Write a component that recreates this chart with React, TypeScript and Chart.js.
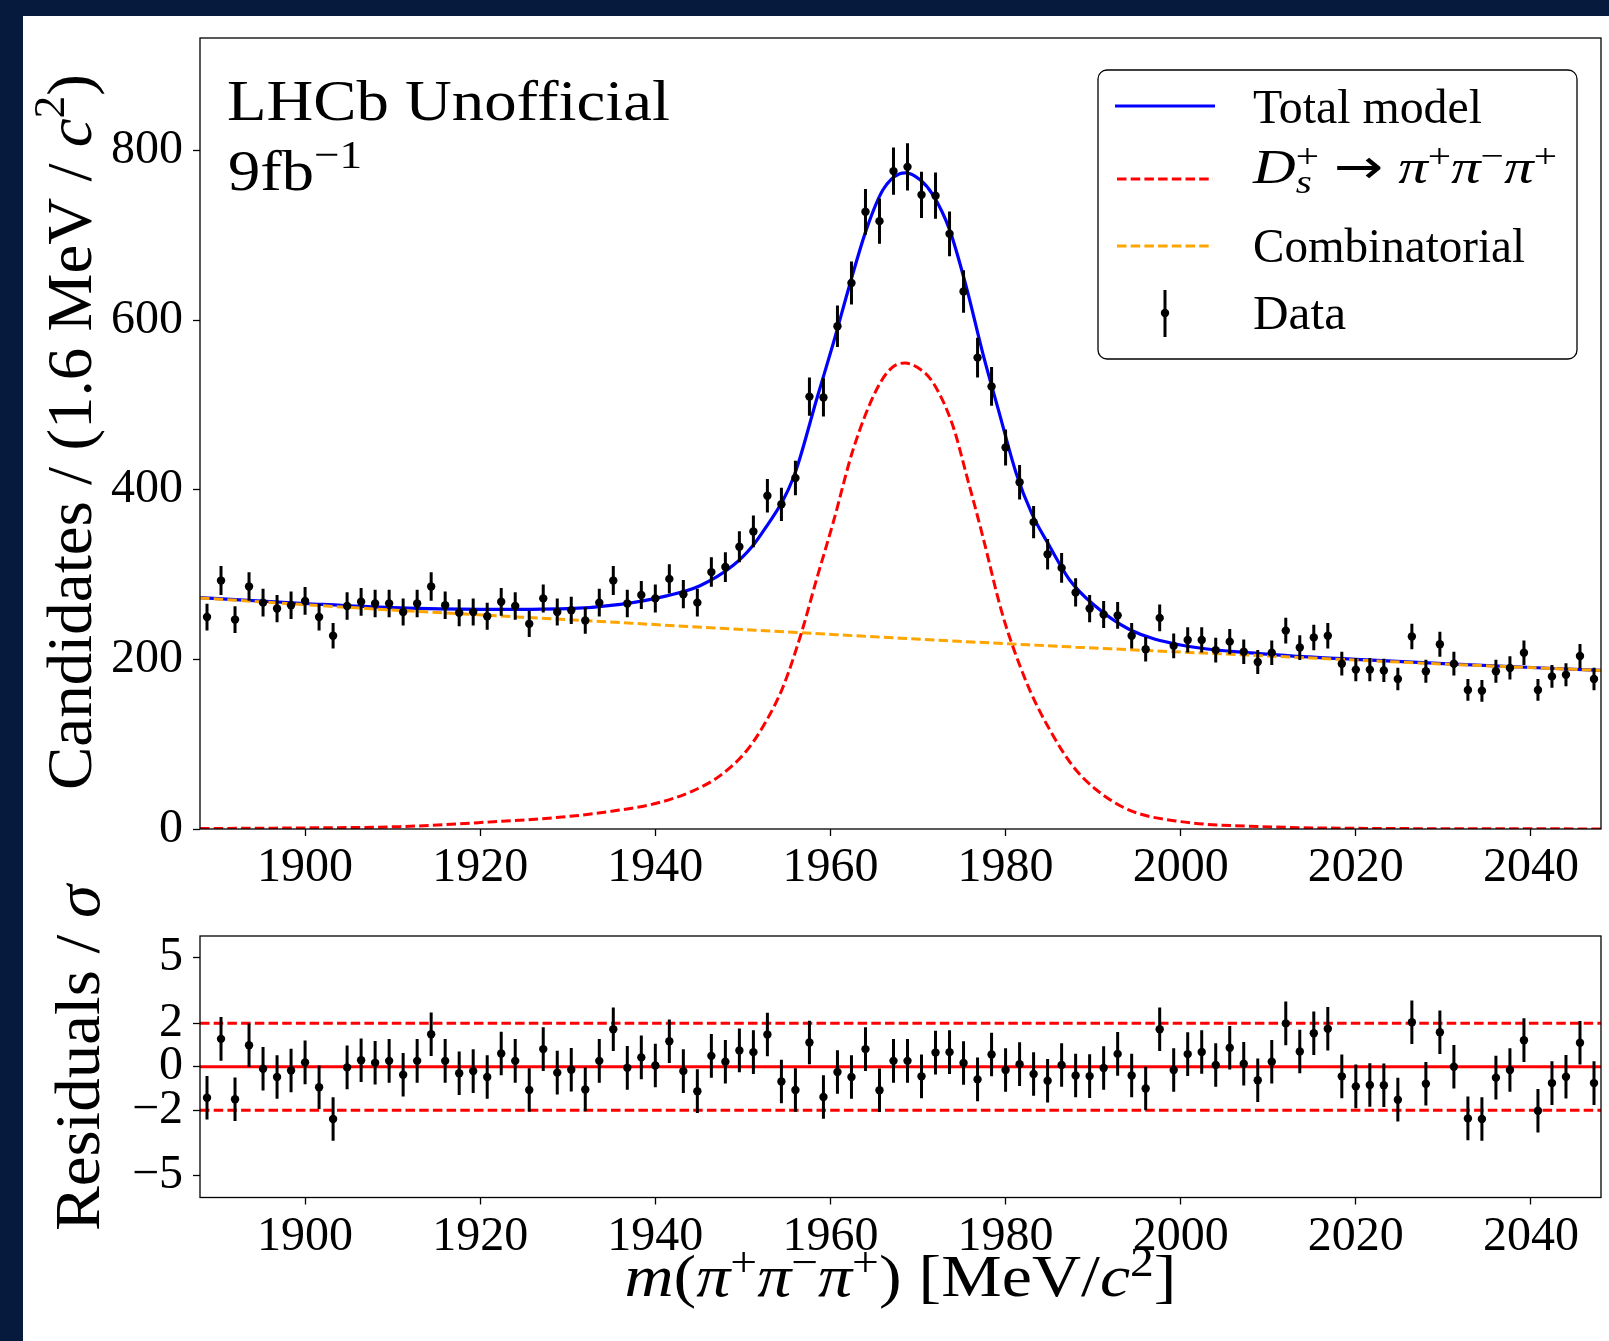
import React, { useEffect, useRef } from 'react';
import { Chart, registerables } from 'chart.js';

Chart.register(...registerables);

// ---------------- data ----------------
const BIN_LOW = 1888;
const BIN_WIDTH = 1.6;
const X_MIN = 1888;
const X_MAX = 2048;
const Y_MAX = 933;

const COUNTS = [
  250, 293, 247, 286, 267, 260, 264, 269, 250, 228,
  263, 268, 266, 266, 256, 266, 286, 264, 255, 256,
  251, 268, 263, 242, 272, 256, 258, 246, 267, 293,
  266, 276, 272, 295, 277, 267, 303, 309, 333, 351,
  393, 383, 414, 510, 509, 593, 644, 728, 717, 776,
  781, 748, 747, 702, 634, 556, 522, 450, 409, 362,
  324, 308, 279, 260, 253, 252, 228, 212, 249, 216,
  223, 223, 211, 221, 209, 197, 208, 234, 214, 226,
  228, 195, 188, 188, 187, 177, 227, 186, 218, 195,
  164, 163, 186, 190, 208, 164, 180, 182, 204, 177,
];

const PULLS = [
  -1.42, 1.28, -1.49, 0.99, -0.09, -0.47, -0.17, 0.2, -0.94, -2.4,
  -0.03, 0.3, 0.18, 0.27, -0.37, 0.27, 1.49, 0.27, -0.3, -0.2,
  -0.47, 0.61, 0.27, -1.07, 0.81, -0.27, -0.14, -1.04, 0.27, 1.72,
  -0.05, 0.43, 0.06, 1.17, -0.2, -1.12, 0.5, 0.23, 0.75, 0.67,
  1.48, -0.68, -1.07, 1.11, -1.39, -0.24, -0.47, 0.81, -1.08, 0.27,
  0.27, -0.44, 0.65, 0.67, 0.17, -0.58, 0.56, -0.15, 0.12, -0.33,
  -0.64, 0.08, -0.4, -0.43, -0.06, 0.59, -0.4, -1.0, 1.72, -0.15,
  0.58, 0.68, 0.08, 0.87, 0.14, -0.62, 0.23, 1.99, 0.7, 1.54,
  1.74, -0.44, -0.9, -0.84, -0.85, -1.51, 2.04, -0.78, 1.58, 0.0,
  -2.37, -2.4, -0.5, -0.15, 1.22, -2.02, -0.75, -0.46, 1.1, -0.75,
];

const TOTAL_X = [
  1888, 1900, 1910, 1920, 1930, 1936, 1941.3, 1945.1, 1948.9, 1951.2,
  1952.7, 1954.6, 1955.75, 1956.5, 1958.4, 1960.3, 1962.2, 1964.1, 1966.0, 1967.9,
  1968.6, 1970.2, 1971.7, 1973.6, 1975.5, 1977.4, 1979.3, 1981.2, 1983, 1985,
  1987.3, 1990, 1994.2, 2000, 2009.4, 2020, 2030, 2048,
];
const TOTAL_Y = [
  273, 266, 261, 259, 260, 265, 275, 287, 311, 335,
  357, 388, 414, 437, 506, 572, 642, 707, 754, 773,
  774, 766, 748, 707, 640, 561, 490, 420, 372, 334,
  294, 265, 235, 217, 206.6, 200, 195, 187,
];

const SIGNAL_X = [
  1888, 1900, 1910.8, 1920, 1929.9, 1935, 1940, 1944.3, 1947.4, 1950.4,
  1952.7, 1954.6, 1956.7, 1958.4, 1960.3, 1962.6, 1965.3, 1967, 1968.5, 1970,
  1971.7, 1974, 1975.6, 1977.4, 1979.4, 1980.5, 1982.8, 1985.1, 1987.7, 1990.4,
  1994.2, 2000, 2009.4, 2020, 2048,
];
const SIGNAL_Y = [
  0.5, 1.3, 2.8, 7.6, 14.6, 21, 30, 45, 63, 92,
  128, 168, 232, 294, 361, 448, 519, 544, 549.6, 544,
  526.8, 475, 415, 345, 262, 225, 163, 116, 74, 46,
  22, 8.7, 2.8, 0.8, 0.1,
];

const COMB_X = [1888, 1908, 1928, 1948, 1968, 1988, 2008, 2028, 2048];
const COMB_Y = [272.5, 259.5, 248, 236.5, 225, 214.5, 205, 195.5, 187];

const X_TICKS = [1900, 1920, 1940, 1960, 1980, 2000, 2020, 2040];
const Y_TICKS = [0, 200, 400, 600, 800];
const PULL_TICKS = [-5, -2, 0, 2, 5];
const PULL_MIN = -6;
const PULL_MAX = 6;

const LEGEND_LABELS = ['Total model', 'Combinatorial', 'Data'];

// ---------------- styling ----------------
const NAVY = '#051a3d';
const FONT = '"Liberation Serif", "Times New Roman", "DejaVu Serif", serif';
const BLUE = '#0000ff';
const RED = '#ff0000';
const ORANGE = '#ffa500';
const DASH = [9.5, 4.2];

type Seg = { t: string; it?: boolean; sup?: boolean; sub?: boolean; hold?: boolean; fam?: string };

function segFont(s: Seg, size: number) {
  const sz = s.sup || s.sub ? size * 0.7 : size;
  return `${s.it ? 'italic ' : ''}${sz}px ${s.fam || FONT}`;
}

function measureRich(ctx: CanvasRenderingContext2D, segs: Seg[], size: number) {
  let x = 0;
  let held = 0;
  for (const s of segs) {
    ctx.font = segFont(s, size);
    const w = ctx.measureText(s.t).width;
    if (s.hold) {
      held = w;
      continue;
    }
    x += Math.max(w, held);
    held = 0;
  }
  return x;
}

function drawRich(
  ctx: CanvasRenderingContext2D,
  segs: Seg[],
  o: {
    x: number;
    y: number;
    size: number;
    width?: number;
    align?: 'left' | 'center';
    rotate?: boolean;
    raise?: number;
  }
) {
  ctx.save();
  ctx.translate(o.x, o.y);
  if (o.rotate) ctx.rotate(-Math.PI / 2);
  const natural = measureRich(ctx, segs, o.size);
  const hs = o.width ? o.width / natural : 1;
  ctx.scale(hs, 1);
  let x = o.align === 'center' ? -natural / 2 : 0;
  ctx.fillStyle = '#000';
  ctx.textBaseline = 'alphabetic';
  ctx.textAlign = 'left';
  const raise = o.raise ?? 0.38;
  let held = 0;
  for (const s of segs) {
    ctx.font = segFont(s, o.size);
    const w = ctx.measureText(s.t).width;
    const dy = s.sup ? -raise * o.size : s.sub ? 0.2 * o.size : 0;
    ctx.fillText(s.t, x, dy);
    if (s.hold) {
      held = w;
      continue;
    }
    x += Math.max(w, held);
    held = 0;
  }
  ctx.restore();
}

function strokeFrame(chart: any) {
  const { ctx, chartArea: a } = chart;
  ctx.save();
  ctx.strokeStyle = '#000';
  ctx.lineWidth = 1.3;
  ctx.strokeRect(a.left, a.top, a.right - a.left, a.bottom - a.top);
  ctx.restore();
}

function axisCfg(
  ticks: number[],
  min: number,
  max: number,
  size: { w?: number; h?: number },
  pad: number,
  fmt?: (v: number) => string
) {
  return {
    type: 'linear',
    min,
    max,
    afterBuildTicks: (s: any) => {
      s.ticks = ticks.map((v) => ({ value: v }));
    },
    afterFit: (s: any) => {
      if (size.w !== undefined) s.width = size.w;
      if (size.h !== undefined) s.height = size.h;
      s.paddingTop = 0;
      s.paddingBottom = 0;
      s.paddingLeft = 0;
      s.paddingRight = 0;
    },
    grid: {
      display: true,
      drawOnChartArea: false,
      drawTicks: true,
      tickLength: 7,
      tickWidth: 1.3,
      tickColor: '#000',
    },
    border: { display: false },
    ticks: {
      color: '#000',
      font: { family: FONT, size: 48 },
      autoSkip: false,
      maxRotation: 0,
      padding: pad,
      callback: (v: any) => (fmt ? fmt(Number(v)) : String(v)),
    },
  };
}

const minusFmt = (v: number) => (v < 0 ? '−' + Math.abs(v) : String(v));

// page geometry of the two canvases
const MAIN_TOP = 0;
const MAIN_H = 905;
const RES_TOP = 850;
const RES_H = 491;

export default function App() {
  const mainRef = useRef<HTMLCanvasElement>(null);
  const resRef = useRef<HTMLCanvasElement>(null);

  useEffect(() => {
    const centers = COUNTS.map((_, i) => BIN_LOW + BIN_WIDTH * (i + 0.5));
    const dataPts = COUNTS.map((c, i) => ({ x: centers[i], y: c }));
    const pullPts = PULLS.map((p, i) => ({ x: centers[i], y: p }));
    const curve = (xs: number[], ys: number[]) => xs.map((x, i) => ({ x, y: ys[i] }));

    const mainPlugin = {
      id: 'mainDeco',
      beforeDatasetDraw(chart: any, args: any) {
        if (args.index !== 0) return;
        const { ctx, scales } = chart;
        ctx.save();
        ctx.strokeStyle = '#000';
        ctx.lineWidth = 3;
        ctx.beginPath();
        COUNTS.forEach((c, i) => {
          const e = Math.sqrt(c);
          const px = scales.x.getPixelForValue(centers[i]);
          ctx.moveTo(px, scales.y.getPixelForValue(c - e));
          ctx.lineTo(px, scales.y.getPixelForValue(c + e));
        });
        ctx.stroke();
        ctx.restore();
      },
      afterDraw(chart: any) {
        const ctx: CanvasRenderingContext2D = chart.ctx;
        strokeFrame(chart);
        drawRich(
          ctx,
          [
            { t: 'Candidates / (1.6 MeV / ' },
            { t: 'c', it: true },
            { t: '2', sup: true },
            { t: ')' },
          ],
          { x: 91, y: 432 - MAIN_TOP, size: 64, width: 716, align: 'center', rotate: true, raise: 0.42 }
        );
        drawRich(ctx, [{ t: 'LHCb Unofficial' }], { x: 227, y: 120, size: 58, width: 443 });
        drawRich(ctx, [{ t: '9fb' }, { t: '−1', sup: true }], { x: 228, y: 190, size: 58, width: 134 });

        // legend
        ctx.save();
        const bx = 1098, by = 70, bw = 479, bh = 289, r = 9;
        ctx.beginPath();
        ctx.moveTo(bx + r, by);
        ctx.arcTo(bx + bw, by, bx + bw, by + bh, r);
        ctx.arcTo(bx + bw, by + bh, bx, by + bh, r);
        ctx.arcTo(bx, by + bh, bx, by, r);
        ctx.arcTo(bx, by, bx + bw, by, r);
        ctx.closePath();
        ctx.fillStyle = '#fff';
        ctx.fill();
        ctx.strokeStyle = '#000';
        ctx.lineWidth = 1.3;
        ctx.stroke();

        ctx.lineWidth = 3.2;
        ctx.strokeStyle = BLUE;
        ctx.beginPath();
        ctx.moveTo(1115, 106);
        ctx.lineTo(1215, 106);
        ctx.stroke();

        ctx.lineWidth = 3;
        ctx.setLineDash(DASH);
        ctx.strokeStyle = RED;
        ctx.beginPath();
        ctx.moveTo(1117, 179);
        ctx.lineTo(1213, 179);
        ctx.stroke();

        ctx.strokeStyle = ORANGE;
        ctx.beginPath();
        ctx.moveTo(1117, 246);
        ctx.lineTo(1213, 246);
        ctx.stroke();
        ctx.setLineDash([]);

        ctx.strokeStyle = '#000';
        ctx.lineWidth = 3;
        ctx.beginPath();
        ctx.moveTo(1165, 290);
        ctx.lineTo(1165, 337);
        ctx.stroke();
        ctx.fillStyle = '#000';
        ctx.beginPath();
        ctx.arc(1165, 313, 4.2, 0, Math.PI * 2);
        ctx.fill();
        ctx.restore();

        drawRich(ctx, [{ t: LEGEND_LABELS[0] }], { x: 1253, y: 122.7, size: 48, width: 229 });
        drawRich(
          ctx,
          [
            { t: 'D', it: true },
            { t: 's', it: true, sub: true, hold: true },
            { t: '+', sup: true },
            { t: ' ' },
            { t: '→', fam: '"DejaVu Sans"' },
            { t: ' ' },
            { t: 'π', it: true },
            { t: '+', sup: true },
            { t: 'π', it: true },
            { t: '−', sup: true },
            { t: 'π', it: true },
            { t: '+', sup: true },
          ],
          { x: 1253, y: 183, size: 48, width: 304, raise: 0.33 }
        );
        drawRich(ctx, [{ t: LEGEND_LABELS[1] }], { x: 1253, y: 262.3, size: 48, width: 272 });
        drawRich(ctx, [{ t: LEGEND_LABELS[2] }], { x: 1253, y: 329.3, size: 48, width: 93 });
      },
    };

    const resPlugin = {
      id: 'resDeco',
      beforeDatasetDraw(chart: any, args: any) {
        if (args.index !== 0) return;
        const { ctx, scales } = chart;
        ctx.save();
        ctx.strokeStyle = '#000';
        ctx.lineWidth = 3;
        ctx.beginPath();
        PULLS.forEach((p, i) => {
          const px = scales.x.getPixelForValue(centers[i]);
          ctx.moveTo(px, scales.y.getPixelForValue(p - 1));
          ctx.lineTo(px, scales.y.getPixelForValue(p + 1));
        });
        ctx.stroke();
        ctx.restore();
      },
      afterDraw(chart: any) {
        const ctx: CanvasRenderingContext2D = chart.ctx;
        strokeFrame(chart);
        drawRich(ctx, [{ t: 'Residuals / ' }, { t: 'σ', it: true }], {
          x: 99,
          y: 1058 - RES_TOP,
          size: 64,
          width: 346,
          align: 'center',
          rotate: true,
        });
        drawRich(
          ctx,
          [
            { t: 'm', it: true },
            { t: '(' },
            { t: 'π', it: true },
            { t: '+', sup: true },
            { t: 'π', it: true },
            { t: '−', sup: true },
            { t: 'π', it: true },
            { t: '+', sup: true },
            { t: ') [MeV/' },
            { t: 'c', it: true },
            { t: '2', sup: true },
            { t: ']' },
          ],
          { x: 900.5, y: 1296 - RES_TOP, size: 60, width: 552, align: 'center', raise: 0.33 }
        );
      },
    };

    const main = new Chart(mainRef.current as HTMLCanvasElement, {
      type: 'scatter',
      data: {
        datasets: [
          {
            label: 'Data',
            data: dataPts,
            pointRadius: 4.2,
            pointBackgroundColor: '#000',
            pointBorderWidth: 0,
            showLine: false,
            order: 0,
          } as any,
          {
            label: 'Signal',
            data: curve(SIGNAL_X, SIGNAL_Y),
            showLine: true,
            pointRadius: 0,
            borderColor: RED,
            borderWidth: 3,
            borderDash: DASH,
            cubicInterpolationMode: 'monotone',
            fill: false,
            order: 1,
          },
          {
            label: 'Combinatorial',
            data: curve(COMB_X, COMB_Y),
            showLine: true,
            pointRadius: 0,
            borderColor: ORANGE,
            borderWidth: 3,
            borderDash: DASH,
            cubicInterpolationMode: 'monotone',
            fill: false,
            order: 2,
          },
          {
            label: 'Total model',
            data: curve(TOTAL_X, TOTAL_Y),
            showLine: true,
            pointRadius: 0,
            borderColor: BLUE,
            borderWidth: 3.2,
            cubicInterpolationMode: 'monotone',
            fill: false,
            order: 3,
          },
        ],
      },
      options: {
        animation: false,
        responsive: false,
        devicePixelRatio: 1,
        layout: { padding: { left: 0, right: 8, top: 38 - MAIN_TOP, bottom: 0 } },
        plugins: { legend: { display: false }, tooltip: { enabled: false } },
        scales: {
          x: axisCfg(X_TICKS, X_MIN, X_MAX, { h: MAIN_TOP + MAIN_H - 829 }, 4),
          y: axisCfg(Y_TICKS, 0, Y_MAX, { w: 200 }, 10),
        } as any,
      },
      plugins: [mainPlugin],
    });

    const res = new Chart(resRef.current as HTMLCanvasElement, {
      type: 'scatter',
      data: {
        datasets: [
          {
            label: 'Pulls',
            data: pullPts,
            pointRadius: 4.2,
            pointBackgroundColor: '#000',
            pointBorderWidth: 0,
            showLine: false,
            order: 0,
          } as any,
          {
            label: 'zero',
            data: [
              { x: X_MIN, y: 0 },
              { x: X_MAX, y: 0 },
            ],
            showLine: true,
            pointRadius: 0,
            borderColor: RED,
            borderWidth: 3,
            order: 1,
          },
          {
            label: 'plus2',
            data: [
              { x: X_MIN, y: 2 },
              { x: X_MAX, y: 2 },
            ],
            showLine: true,
            pointRadius: 0,
            borderColor: RED,
            borderWidth: 3,
            borderDash: DASH,
            order: 2,
          },
          {
            label: 'minus2',
            data: [
              { x: X_MIN, y: -2 },
              { x: X_MAX, y: -2 },
            ],
            showLine: true,
            pointRadius: 0,
            borderColor: RED,
            borderWidth: 3,
            borderDash: DASH,
            order: 3,
          },
        ],
      },
      options: {
        animation: false,
        responsive: false,
        devicePixelRatio: 1,
        layout: { padding: { left: 0, right: 8, top: 936 - RES_TOP, bottom: 0 } },
        plugins: { legend: { display: false }, tooltip: { enabled: false } },
        scales: {
          x: axisCfg(X_TICKS, X_MIN, X_MAX, { h: RES_TOP + RES_H - 1197.5 }, 4),
          y: axisCfg(PULL_TICKS, PULL_MIN, PULL_MAX, { w: 200 }, 10, minusFmt),
        } as any,
      },
      plugins: [resPlugin],
    });

    return () => {
      main.destroy();
      res.destroy();
    };
  }, []);

  return (
    <div
      style={{
        position: 'fixed',
        left: 0,
        top: 0,
        width: 1609,
        height: 1341,
        background: NAVY,
        overflow: 'hidden',
      }}
    >
      <div style={{ position: 'absolute', left: 23, top: 16, right: 0, bottom: 0, background: '#fff' }} />
      <canvas
        ref={mainRef}
        width={1609}
        height={MAIN_H}
        style={{ position: 'absolute', left: 0, top: MAIN_TOP, width: 1609, height: MAIN_H }}
      />
      <canvas
        ref={resRef}
        width={1609}
        height={RES_H}
        style={{ position: 'absolute', left: 0, top: RES_TOP, width: 1609, height: RES_H }}
      />
    </div>
  );
}
